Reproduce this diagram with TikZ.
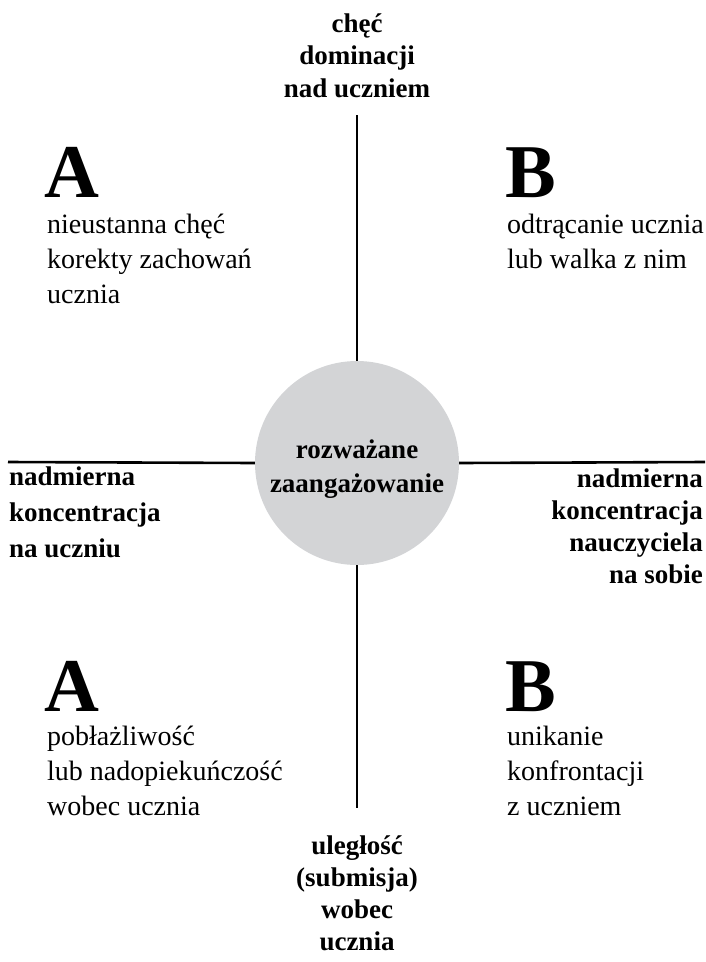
\documentclass[tikz,border=0pt]{standalone}
\usepackage{fontspec}
\setmainfont{Liberation Serif}
\definecolor{circlegray}{RGB}{211,212,214}
\begin{document}
\begin{tikzpicture}[x=1pt,y=-1pt,
  reg/.style={font=\fontsize{28}{34.7}\selectfont, align=left, inner sep=0pt, anchor=base west},
  lbl/.style={font=\bfseries\fontsize{27}{#1}\selectfont, inner sep=0pt},
  lbl/.default=32,
  big/.style={font=\bfseries\fontsize{76}{76}\selectfont, inner sep=0pt, anchor=base west},
  axis/.style={line width=2.6pt}]
\useasboundingbox (0,0) rectangle (705,962);
% axes endpoints
\coordinate (top) at (357,115);
\coordinate (bottom) at (357,808);
\coordinate (left) at (8,462);
\coordinate (right) at (705,462);
\node[circle, fill=circlegray, minimum size=204pt, inner sep=0pt] (c) at (357,463) {};
\draw[axis] (top) -- (c.north);
\draw[axis] (c.south) -- (bottom);
\draw[axis] (left) -- (c.west);
\draw[axis] (c.east) -- (right);
% multi-line nodes: base anchor = baseline of the last line
\node[lbl=34, align=center, anchor=base] (ctext) at (357,492) {rozważane\\zaangażowanie};
% axis labels
\node[lbl=32.5, align=center, anchor=base] (toplbl) at (357,97) {chęć\\dominacji\\nad uczniem};
\node[lbl=31.7, align=center, anchor=base] (botlbl) at (357,950) {uległość\\(submisja)\\wobec\\ucznia};
\node[lbl=36, align=left, anchor=base west] (leftlbl) at (9,557) {nadmierna\\koncentracja\\na uczniu};
\node[lbl=32, align=right, anchor=base east] (rightlbl) at (703,583) {nadmierna\\koncentracja\\nauczyciela\\na sobie};
% quadrants
\node[big] (A1) at (44,197) {A};
\node[reg] (A1t) at (47,303) {nieustanna chęć\\korekty zachowań\\ucznia};
\node[big] (B1) at (505,197) {B};
\node[reg] (B1t) at (507,268) {odtrącanie ucznia\\lub walka z nim};
\node[big] (A2) at (44,711) {A};
\node[reg] (A2t) at (47,815) {pobłażliwość\\lub nadopiekuńczość\\wobec ucznia};
\node[big] (B2) at (505,711) {B};
\node[reg] (B2t) at (507,815) {unikanie\\konfrontacji\\z uczniem};
\end{tikzpicture}
\end{document}
